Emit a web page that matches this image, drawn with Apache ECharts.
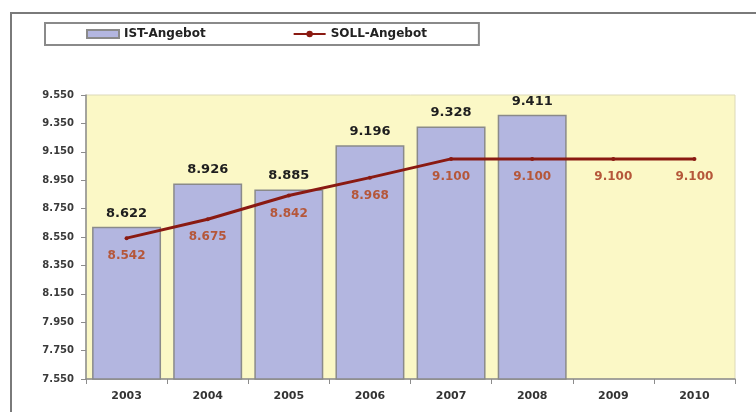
<!DOCTYPE html>
<html>
<head>
<meta charset="utf-8">
<script src="https://cdn.jsdelivr.net/npm/echarts@6/dist/echarts.min.js"></script>
<style>
  html, body { margin: 0; padding: 0; background: #ffffff; }
  #frame { position: absolute; left: 10px; top: 12px; right: -2px; bottom: -2px; border-left: 2px solid #7a7a7a; border-top: 2px solid #7a7a7a; }
  #chart { position: absolute; left: 0; top: 0; width: 756px; height: 412px; }
</style>
</head>
<body>
<div id="frame"></div>
<div id="chart"></div>
<script>
const categories = ['2003', '2004', '2005', '2006', '2007', '2008', '2009', '2010'];
const istValues = [8622, 8926, 8885, 9196, 9328, 9411, null, null];
const sollValues = [8542, 8675, 8842, 8968, 9100, 9100, 9100, 9100];
const yTicks = [7550, 7750, 7950, 8150, 8350, 8550, 8750, 8950, 9150, 9350, 9550];
const seriesNames = ['IST-Angebot', 'SOLL-Angebot'];

function deFmt(v) {
  return String(Math.round(v)).replace(/\B(?=(\d{3})+(?!\d))/g, '.');
}

const FONT = 'DejaVu Sans';
const chart = echarts.init(document.getElementById('chart'), null, { renderer: 'canvas' });
chart.setOption({
  animation: false,
  backgroundColor: 'transparent',
  textStyle: { fontFamily: FONT },
  legend: {
    left: 45, top: 23,
    padding: [5, 52, 5, 41],
    itemGap: 87,
    itemWidth: 32, itemHeight: 8,
    borderColor: '#8a8a8a', borderWidth: 2,
    backgroundColor: '#ffffff',
    textStyle: { fontFamily: FONT, fontWeight: 'bold', fontSize: 12, color: '#222' },
    data: [
      { name: seriesNames[0], icon: 'rect' },
      { name: seriesNames[1] }
    ]
  },
  grid: {
    left: 86, right: 21, top: 95, bottom: 33,
    show: true, backgroundColor: '#fbf8c6', borderColor: '#dcd9b8', borderWidth: 1
  },
  xAxis: {
    type: 'category',
    data: categories,
    axisLine: { lineStyle: { color: '#8c8c8c', width: 1.5 } },
    axisTick: { show: true, length: 5, lineStyle: { color: '#8c8c8c' } },
    axisLabel: { fontFamily: FONT, fontWeight: 'bold', fontSize: 11, color: '#333', margin: 12 }
  },
  yAxis: {
    type: 'value',
    min: 7550, max: 9550,
    splitLine: { show: false },
    axisLine: { show: true, lineStyle: { color: '#8c8c8c', width: 1.5 } },
    axisTick: { show: true, length: 5, customValues: yTicks, lineStyle: { color: '#8c8c8c' } },
    axisLabel: { customValues: yTicks, formatter: deFmt, fontFamily: FONT, fontWeight: 'bold', fontSize: 10, color: '#3a3a3a', margin: 12 }
  },
  series: [
    {
      name: seriesNames[0],
      type: 'bar',
      data: istValues,
      barCategoryGap: '15%',
      itemStyle: { color: '#b3b6e0', borderColor: '#8a8a8a', borderWidth: 1.5 },
      label: {
        show: true, position: 'top', distance: 7,
        formatter: p => deFmt(p.value),
        fontFamily: FONT, fontWeight: 'bold', fontSize: 13, color: '#1e1e1e'
      },
      z: 2
    },
    {
      name: seriesNames[1],
      type: 'line',
      data: sollValues,
      symbol: 'circle', symbolSize: 4,
      lineStyle: { color: '#8a1a12', width: 3 },
      itemStyle: { color: '#8a1a12' },
      label: {
        show: true, position: 'bottom', distance: 10,
        formatter: p => deFmt(p.value),
        fontFamily: FONT, fontWeight: 'bold', fontSize: 12, color: '#b5573a'
      },
      z: 3
    }
  ]
});
</script>
</body>
</html>
